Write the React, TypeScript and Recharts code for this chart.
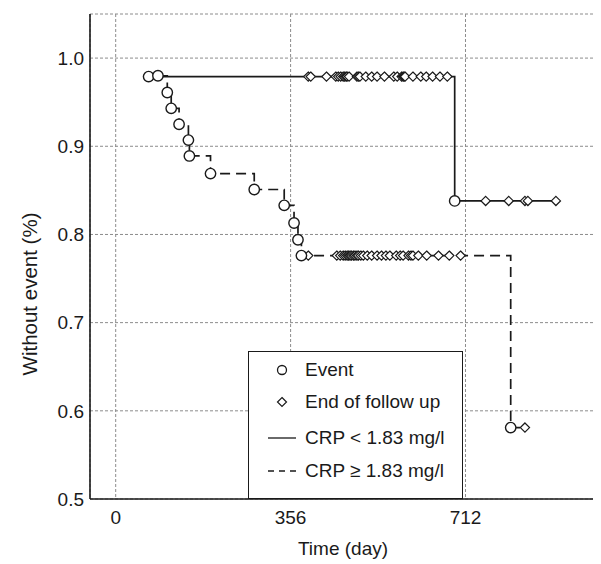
import React from 'react';
import { ComposedChart, Line, Scatter, XAxis, YAxis, CartesianGrid, Legend, Label } from 'recharts';

const xTicks = [0, 356, 712];
const yTicks = [0.5, 0.6, 0.7, 0.8, 0.9, 1.0];
const topTicks = [-16, 130, 276, 422, 567, 858];

// CRP < 1.83 mg/l (solid)
const lowEventDays = [67, 690];
const lowEventSurv = [0.979, 0.838];
const lowCensorDays = [392, 397, 429, 448, 453, 458, 463, 466, 469, 471, 475, 491, 494, 497, 509, 521, 532, 547, 566, 573, 582, 585, 587, 589, 605, 621, 632, 645, 660, 675, 753, 800, 833, 839, 896];

// CRP >= 1.83 mg/l (dashed)
const highEventDays = [86, 105, 113, 129, 148, 150, 193, 282, 343, 363, 371, 378, 804];
const highEventSurv = [0.98, 0.961, 0.943, 0.925, 0.907, 0.889, 0.869, 0.851, 0.833, 0.813, 0.794, 0.776, 0.581];
const highCensorDays = [392, 450, 457, 463, 467, 471, 474, 477, 480, 484, 487, 491, 494, 499, 504, 512, 521, 532, 541, 550, 558, 571, 579, 585, 596, 601, 605, 616, 633, 657, 679, 702, 833];

const legendLabels = ['Event', 'End of follow up', 'CRP < 1.83 mg/l', 'CRP \u2265 1.83 mg/l'];

const FONT = '"Liberation Sans", Arial, Helvetica, sans-serif';
const INK = '#1a1a1a';
const xDomain: [number, number] = [-52.3, 987.8];
const yDomain: [number, number] = [0.5, 1.05];

function survAt(days: number[], survs: number[], t: number) {
  let s = survs[0];
  for (let i = 0; i < days.length; i++) if (days[i] <= t) s = survs[i];
  return s;
}

function curve(days: number[], survs: number[], censor: number[]) {
  const pts = days.map((d, i) => ({ x: d, y: survs[i] }));
  const last = censor[censor.length - 1];
  pts.push({ x: last, y: survAt(days, survs, last) });
  return pts;
}

const lowLine = curve(lowEventDays, lowEventSurv, lowCensorDays);
const highLine = curve(highEventDays, highEventSurv, highCensorDays);
const events = [
  ...lowEventDays.map((d, i) => ({ x: d, y: lowEventSurv[i] })),
  ...highEventDays.map((d, i) => ({ x: d, y: highEventSurv[i] })),
];
const censored = [
  ...lowCensorDays.map((d) => ({ x: d, y: survAt(lowEventDays, lowEventSurv, d) })),
  ...highCensorDays.map((d) => ({ x: d, y: survAt(highEventDays, highEventSurv, d) })),
];

const CircleMark = (p: any) => (
  <circle cx={p.cx} cy={p.cy} r={5.2} fill="#fff" stroke={INK} strokeWidth={1.4} />
);
const DiamondMark = (p: any) => {
  const { cx, cy } = p;
  const h = 4.6;
  return (
    <path
      d={`M${cx},${cy - h} L${cx + h},${cy} L${cx},${cy + h} L${cx - h},${cy} Z`}
      fill="#fff"
      stroke={INK}
      strokeWidth={1.2}
    />
  );
};

const LegendBox = () => {
  const rows = [18, 50, 85.5, 119];
  const icon = (i: number) => {
    if (i === 0) return <circle cx={15} cy={11} r={4.5} fill="#fff" stroke={INK} strokeWidth={1.3} />;
    if (i === 1)
      return <path d="M15,6.5 L19.5,11 L15,15.5 L10.5,11 Z" fill="#fff" stroke={INK} strokeWidth={1.2} />;
    if (i === 2) return <line x1={1} y1={11} x2={29} y2={11} stroke={INK} strokeWidth={1.3} />;
    return <line x1={1} y1={11} x2={29} y2={11} stroke={INK} strokeWidth={1.3} strokeDasharray="6 5" />;
  };
  return (
    <div
      style={{
        position: 'relative',
        width: 215,
        height: 148,
        boxSizing: 'border-box',
        border: `1.5px solid ${INK}`,
        background: '#fff',
        fontFamily: FONT,
        fontSize: 19,
        color: INK,
      }}
    >
      {legendLabels.map((lab, i) => (
        <div key={lab} style={{ position: 'absolute', left: 0, top: rows[i] - 11, height: 22, width: 213 }}>
          <svg width={30} height={22} style={{ position: 'absolute', left: 18, top: 0 }}>
            {icon(i)}
          </svg>
          <span style={{ position: 'absolute', left: 56, top: 0, lineHeight: '22px', whiteSpace: 'nowrap' }}>{lab}</span>
        </div>
      ))}
    </div>
  );
};

export default function App() {
  const tickStyle = { fontFamily: FONT, fontSize: 19, fill: INK };
  return (
    <div style={{ height: 556 }}>
      <style>{'body{margin:8px 8px 0 8px;}'}</style>
      <ComposedChart width={593} height={556} margin={{ top: 6, right: 0, bottom: 0, left: 0 }}>
        <CartesianGrid stroke="#8c8c8c" strokeDasharray="3 2" strokeWidth={1} />
        <XAxis
          xAxisId={0}
          type="number"
          dataKey="x"
          domain={xDomain}
          ticks={xTicks}
          interval={0}
          allowDataOverflow
          height={65}
          tickSize={0}
          tickMargin={12}
          tick={tickStyle}
          axisLine={{ stroke: INK, strokeWidth: 1.6 }}
        >
          <Label
            content={() => (
              <text x={335} y={547} textAnchor="middle" fontFamily={FONT} fontSize={19} fill={INK}>
                Time (day)
              </text>
            )}
          />
        </XAxis>
        <XAxis
          xAxisId="top"
          orientation="top"
          type="number"
          dataKey="x"
          domain={xDomain}
          ticks={topTicks}
          interval={0}
          allowDataOverflow
          mirror
          height={0}
          tick={() => <g />}
          tickSize={4}
          tickLine={{ stroke: INK, strokeWidth: 1.4 }}
          axisLine={{ stroke: INK, strokeWidth: 1.6 }}
        />
        <YAxis
          type="number"
          dataKey="y"
          domain={yDomain}
          ticks={yTicks}
          interval={0}
          allowDataOverflow
          width={82}
          tickSize={0}
          tickMargin={6}
          tick={tickStyle}
          tickFormatter={(v: number) => v.toFixed(1)}
          axisLine={{ stroke: INK, strokeWidth: 1.6 }}
        >
          <Label
            content={() => (
              <text
                x={29}
                y={286}
                transform="rotate(-90, 29, 286)"
                textAnchor="middle"
                fontFamily={FONT}
                fontSize={20.5}
                fill={INK}
              >
                Without event (%)
              </text>
            )}
          />
        </YAxis>
        <Line
          data={lowLine}
          dataKey="y"
          type="stepAfter"
          stroke={INK}
          strokeWidth={1.7}
          dot={false}
          activeDot={false}
          isAnimationActive={false}
          name={legendLabels[2]}
        />
        <Line
          data={highLine}
          dataKey="y"
          type="stepAfter"
          stroke={INK}
          strokeWidth={1.7}
          strokeDasharray="10 6"
          dot={false}
          activeDot={false}
          isAnimationActive={false}
          name={legendLabels[3]}
        />
        <Scatter data={censored} dataKey="y" shape={DiamondMark} isAnimationActive={false} name={legendLabels[1]} />
        <Scatter data={events} dataKey="y" shape={CircleMark} isAnimationActive={false} name={legendLabels[0]} />
        <Legend
          layout="vertical"
          align="center"
          verticalAlign="middle"
          width={215}
          height={148}
          wrapperStyle={{ left: 240, top: 343, width: 215, height: 148 }}
          content={() => <LegendBox />}
        />
      </ComposedChart>
    </div>
  );
}
